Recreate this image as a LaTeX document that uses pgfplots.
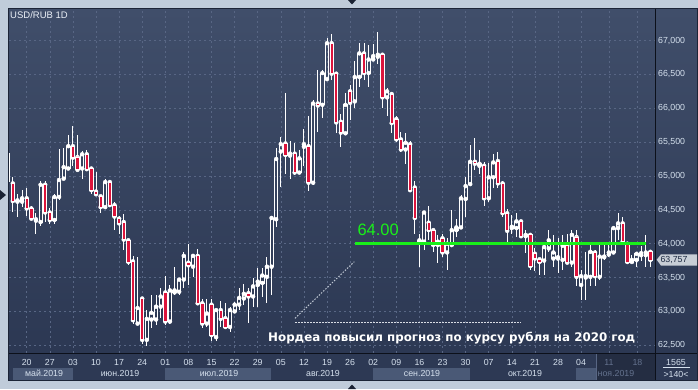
\documentclass[border=0pt]{standalone}
\usepackage{pgfplots}
\pgfplotsset{compat=1.18}
\usepackage{pgfplotstable}
\usepackage{fontspec}
\setmainfont{Liberation Sans}
\newfontfamily\djs{DejaVu Sans}
\newcommand\lbl{\fontsize{8.8}{10}\selectfont}
\definecolor{frame}{RGB}{192,204,218}
\definecolor{bgtop}{RGB}{64,78,106}
\definecolor{bgbot}{RGB}{44,56,83}
\definecolor{gridc}{RGB}{88,102,132}
\definecolor{axbg}{RGB}{45,57,84}
\definecolor{band}{RGB}{74,89,118}
\definecolor{dimbg}{RGB}{36,45,66}
\definecolor{labc}{RGB}{214,225,238}
\definecolor{dimtxt}{RGB}{100,114,142}
\definecolor{cred}{RGB}{220,20,60}
\definecolor{lgreen}{RGB}{25,240,25}
\definecolor{edge}{RGB}{12,16,26}
\definecolor{tagc}{RGB}{200,206,214}
\definecolor{bord}{RGB}{28,36,54}
\definecolor{titc}{RGB}{235,240,247}
\definecolor{tagtxt}{RGB}{27,40,64}
\definecolor{dotA}{RGB}{216,220,228}
\definecolor{dotB}{RGB}{190,198,210}
\definecolor{tri}{RGB}{26,34,51}

\pgfplotstableread{
k o h l c
-4 65.33 65.36 64.85 64.92
-3 64.89 64.98 64.47 64.63
-2 64.62 64.73 64.39 64.64
-1 64.62 64.80 64.54 64.67
0 64.67 64.82 64.41 64.52
1 64.52 64.55 64.35 64.37
2 64.36 64.45 64.15 64.34
3 64.32 64.92 64.26 64.87
4 64.87 64.93 64.32 64.46
5 64.46 64.52 64.29 64.35
6 64.35 64.74 64.29 64.69
7 64.69 65.40 64.64 64.94
8 64.96 65.41 64.95 65.13
9 65.11 65.60 65.10 65.44
10 65.44 65.74 65.14 65.27
11 65.28 65.60 65.08 65.09
12 65.11 65.37 64.95 65.32
13 65.32 65.39 65.09 65.10
14 65.11 65.11 64.74 64.79
15 64.77 65.06 64.72 64.73
16 64.70 64.72 64.45 64.54
17 64.54 64.95 64.51 64.91
18 64.91 64.91 64.56 64.57
19 64.57 64.61 64.20 64.40
20 64.37 64.41 64.14 64.30
21 64.32 64.44 63.91 64.06
22 64.05 64.06 63.68 63.73
23 63.74 63.82 62.82 62.87
24 62.82 63.81 62.82 63.05
25 63.19 63.19 62.52 62.58
26 62.58 63.02 62.49 62.89
27 62.88 63.24 62.75 62.98
28 62.88 63.24 62.80 63.07
29 63.07 63.34 62.91 63.22
30 63.28 63.52 62.80 62.85
31 62.85 63.39 62.81 63.31
32 63.28 63.66 63.24 63.31
33 63.29 63.49 63.24 63.47
34 63.47 63.87 63.34 63.82
35 63.72 63.99 63.39 63.68
36 63.66 63.82 63.51 63.82
37 63.82 63.92 63.11 63.12
38 63.12 63.19 62.76 62.82
39 62.82 63.19 62.77 62.97
40 63.10 63.19 62.57 62.65
41 62.62 63.02 62.57 63.02
42 63.02 63.15 62.77 62.89
43 62.90 63.13 62.75 62.77
44 62.77 63.07 62.70 63.02
45 63.00 63.14 62.97 63.10
46 63.10 63.34 63.02 63.20
47 63.19 63.41 63.10 63.26
48 63.27 63.34 62.83 63.22
49 63.22 63.49 63.07 63.37
50 63.39 63.64 63.07 63.44
51 63.42 63.64 63.22 63.53
52 63.51 63.80 63.12 63.66
53 63.66 64.40 63.24 64.38
54 64.36 65.41 64.25 65.25
55 65.36 65.58 64.84 65.47
56 65.48 66.22 65.03 65.31
57 65.30 65.52 64.95 65.33
58 65.33 65.49 65.01 65.05
59 65.05 65.38 65.04 65.26
60 65.43 65.69 65.14 65.47
61 65.44 65.88 64.78 64.90
62 64.90 66.12 64.87 66.07
63 66.07 66.57 65.65 66.04
64 66.05 66.57 65.85 66.52
65 66.43 67.03 66.42 66.96
66 66.96 67.10 66.42 66.51
67 66.51 66.52 65.64 65.79
68 65.80 65.92 65.43 65.64
69 65.63 66.22 65.61 66.05
70 66.25 66.34 65.83 66.08
71 66.10 66.69 66.00 66.46
72 66.46 66.97 66.32 66.81
73 66.81 66.96 66.42 66.52
74 66.52 66.93 66.32 66.72
75 66.72 66.95 66.71 66.77
76 66.76 67.13 66.66 66.79
77 66.79 66.81 66.00 66.16
78 66.16 66.30 65.88 66.25
79 66.21 66.23 65.63 65.78
80 65.84 65.88 65.50 65.54
81 65.54 65.65 65.36 65.39
82 65.39 65.64 65.18 65.49
83 65.47 65.51 64.77 64.79
84 64.83 64.92 64.15 64.38
85 64.02 64.15 63.66 64.05
86 64.03 64.47 63.91 64.46
87 64.31 64.55 64.05 64.20
88 64.20 64.21 63.88 63.98
89 63.98 64.13 63.71 64.03
90 64.08 64.15 63.81 63.87
91 63.87 64.08 63.61 64.00
92 63.98 64.49 63.96 64.20
93 64.20 64.37 64.10 64.24
94 64.24 64.72 64.23 64.67
95 64.66 64.99 64.40 64.85
96 64.88 65.46 64.87 65.21
97 65.21 65.56 65.09 65.18
98 65.15 65.38 65.03 65.18
99 65.15 65.20 64.55 64.67
100 64.67 65.19 64.61 64.98
101 64.98 65.33 64.82 65.20
102 65.22 65.36 64.82 64.89
103 64.89 64.92 64.40 64.45
104 64.45 64.51 64.03 64.19
105 64.23 64.42 64.15 64.25
106 64.23 64.45 64.10 64.33
107 64.33 64.35 64.09 64.11
108 64.11 64.20 63.86 64.13
109 64.13 64.15 63.61 63.67
110 63.85 63.93 63.59 63.78
111 63.77 63.78 63.54 63.73
112 63.75 64.00 63.54 63.95
113 63.93 64.20 63.88 64.05
114 63.78 64.13 63.66 63.87
115 63.78 64.08 63.56 63.80
116 63.76 64.13 63.61 63.97
117 63.97 64.15 63.71 63.72
118 63.72 64.20 63.66 64.13
119 64.10 64.20 63.37 63.51
120 63.39 63.61 63.17 63.52
121 63.50 63.88 63.17 63.52
122 63.51 63.98 63.37 63.88
123 63.87 63.91 63.37 63.52
124 63.51 63.98 63.46 63.81
125 63.80 63.98 63.76 63.81
126 63.84 64.00 63.81 63.87
127 63.87 64.25 63.86 64.23
128 64.23 64.46 64.05 64.30
129 64.30 64.40 64.03 64.03
130 64.00 64.03 63.72 63.73
131 63.73 63.83 63.71 63.76
132 63.76 63.88 63.66 63.85
133 63.83 63.97 63.75 63.86
134 63.83 64.13 63.66 63.87
135 63.88 63.91 63.66 63.76
}\candles

\pgfplotsset{
  chartbox/.style={
    at={(9pt,36pt)}, anchor=south west,
    scale only axis, width=646pt, height=344pt,
    xmin=-3.831, xmax=135.996, ymin=62.386, ymax=67.465,
  }
}

\begin{document}
\begin{tikzpicture}[x=1pt,y=1pt]
\useasboundingbox (0,0) rectangle (698,389);
% outer frame
\fill[frame] (0,0) rectangle (698,389);
% panel
\fill[axbg] (8,8) rectangle (697,381);
\shade[top color=bgtop, bottom color=bgbot] (655,36) rectangle (697,380);
% month bands
\fill[band] (13,8.3) rectangle (73,20.7);
\fill[band] (165,8.3) rectangle (271,20.7);
\fill[band] (373,8.3) rectangle (470,20.7);
\fill[band] (576,8.3) rectangle (596,20.7);
\fill[dimbg] (596,8.3) rectangle (655,35.5);
\draw[gridc, line width=0.6pt] (596,8.3) -- (596,35.5);

% ===== axis A: background, grid, labels, wicks
\begin{axis}[chartbox,
  axis line style={draw=none},
  axis background/.style={top color=bgtop, bottom color=bgbot},
  xmajorgrids, ymajorgrids,
  major grid style={gridc, dash pattern=on 2pt off 3pt, line width=0.6pt},
  xtick={0,5,10,15,20,25,30,35,40,45,50,55,60,65,70,75,80,85,90,95,100,105,110,115,120,126.04,132.2},
  xticklabels={20,27,03,10,17,24,01,08,15,22,29,05,12,19,26,02,09,16,23,30,07,14,21,28,04,{\color{dimtxt}11},{\color{dimtxt}18}},
  ytick={62.5,63,63.5,64,64.5,65,65.5,66,66.5,67},
  yticklabels={{62,500},{63,000},{63,500},{64,000},{64,500},{65,000},{65,500},{66,000},{66,500},{67,000}},
  yticklabel pos=right,
  major tick length=0pt, tick style={draw=none},
  xticklabel style={font=\lbl, text=labc, inner sep=0pt, anchor=north, yshift=-6.0pt},
  yticklabel style={font=\lbl, text=labc, inner sep=0pt, anchor=west, xshift=3pt},
]
\addplot[white, only marks, mark=none,
  error bars/.cd, y dir=minus, y explicit, error mark=none,
  error bar style={draw=white, line width=0.9pt}]
  table[x=k, y expr={min(\thisrow{o},\thisrow{c})},
        y error minus expr={min(\thisrow{o},\thisrow{c})-\thisrow{l}}] {\candles};
\addplot[white, only marks, mark=none,
  error bars/.cd, y dir=plus, y explicit, error mark=none,
  error bar style={draw=white, line width=0.9pt}]
  table[x=k, y expr={max(\thisrow{o},\thisrow{c})},
        y error plus expr={\thisrow{h}-max(\thisrow{o},\thisrow{c})}] {\candles};
\end{axis}

% ===== axis B: candle bodies
\begin{axis}[chartbox, hide axis, ybar stacked, bar width=3.3pt]
\addplot[draw=none, fill=none] table[x=k, y expr={min(\thisrow{o},\thisrow{c})}] {\candles};
\addplot[draw=white, fill=none, line width=0.8pt] table[x=k, y expr={max(\thisrow{c}-\thisrow{o},0)}] {\candles};
\addplot[draw=white, fill=cred, line width=0.8pt] table[x=k, y expr={max(\thisrow{o}-\thisrow{c},0)}] {\candles};
\end{axis}

% ===== axis C: 64.00 level
\begin{axis}[chartbox, hide axis]
\addplot[lgreen, line width=3.4pt, mark=none] coordinates {(71.06,64) (134.05,64)};
\node[anchor=base west, inner sep=0pt, text=lgreen, font=\fontsize{16.5}{18}\selectfont] at (axis cs:71.56,64.128) {64.00};
\end{axis}

% separating lines
\draw[edge, line width=1.2pt] (655.3,8) -- (655.3,380.5);
\draw[edge, line width=1.2pt] (8.5,35.3) -- (697,35.3);
\draw[bord, line width=1pt] (8.5,8.5) rectangle (697,380.5);

% month labels
\begin{scope}[font=\lbl, text=labc, inner sep=0pt]
\node[anchor=base] at (44,12.3) {май.2019};
\node[anchor=base] at (120,12.3) {июн.2019};
\node[anchor=base] at (219,12.3) {июл.2019};
\node[anchor=base] at (323,12.3) {авг.2019};
\node[anchor=base] at (422,12.3) {сен.2019};
\node[anchor=base] at (525,12.3) {окт.2019};
\node[anchor=base, text=dimtxt] at (616,12.3) {ноя.2019};
\node[anchor=base] at (676,23.8) {1565};
\node[anchor=base] at (676,11.5) {>140<};
\end{scope}
\draw[labc, line width=0.6pt] (663,21.5) -- (690,21.5);

% title
\node[anchor=base west, inner sep=0pt, text=titc, font=\fontsize{9.5}{11}\selectfont] at (10,370.7) {USD/RUB 1D};

% current price tag
\fill[tagc] (656.7,129.3) -- (661,134.7) -- (697,134.7) -- (697,123.3) -- (661,123.3) -- cycle;
\node[anchor=center, inner sep=0pt, text=tagtxt, font=\lbl] at (674,129.3) {63,757};

% annotation lines
\draw[dotA, line width=0.8pt, dash pattern=on 1.5pt off 1.5pt] (295,66.7) -- (521,66.7);
\draw[dotB, line width=1pt, dash pattern=on 1.5pt off 1.5pt] (295,70.7) -- (354.3,127.3);

% headline
\node[anchor=base west, inner sep=0pt, text=white, font=\djs\bfseries\fontsize{11.85}{13}\selectfont] at (268,48) {Нордеа повысил прогноз по курсу рубля на 2020 год};

% small triangles on frame
\fill[tri] (348,389) -- (356,389) -- (352,384.5) -- cycle;
\fill[tri] (348,0) -- (356,0) -- (352,4.5) -- cycle;
\fill[tri] (0,199) -- (0,189) -- (6,194) -- cycle;
\end{tikzpicture}
\end{document}
